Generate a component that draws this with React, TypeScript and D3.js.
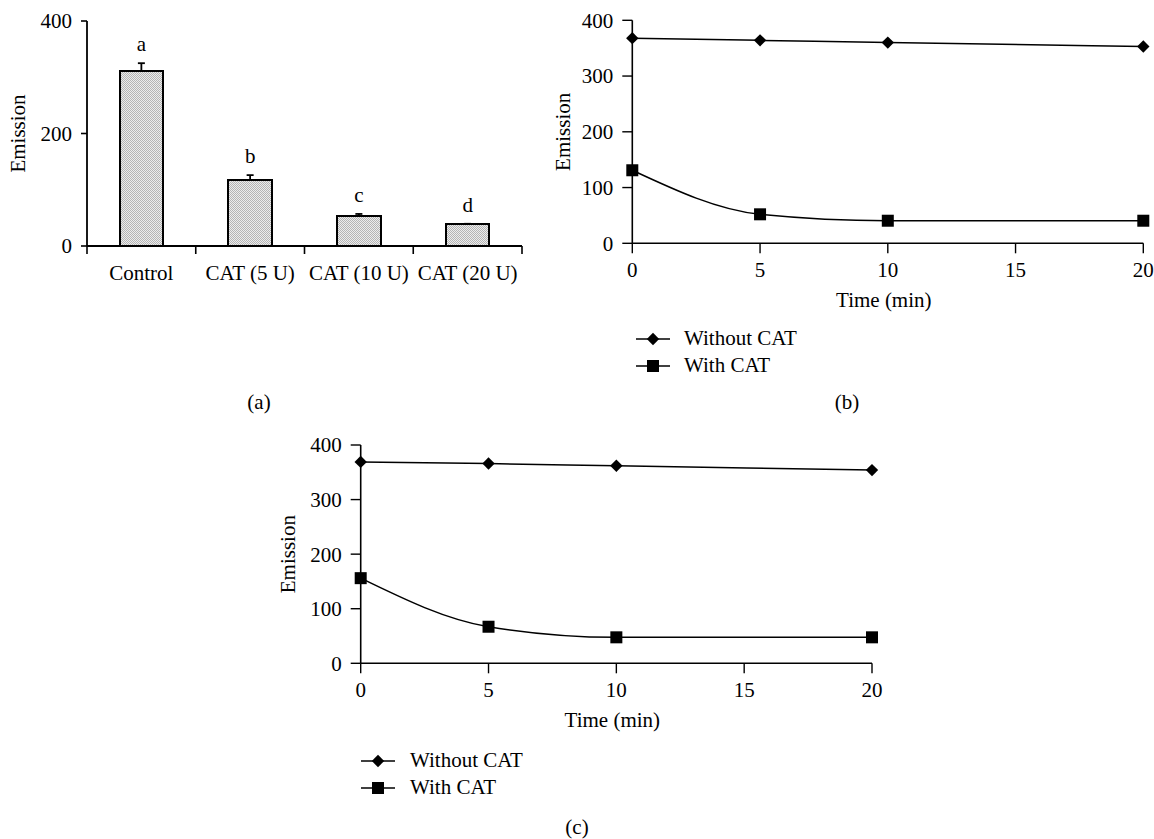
import React from "react";
import * as d3 from "d3";

// ---------- Data ----------
const barCategories = ["Control", "CAT (5 U)", "CAT (10 U)", "CAT (20 U)"];
const barValues = [312, 117, 53, 38.5];
const barErrors = [13, 9, 4, 1];
const barLetters = ["a", "b", "c", "d"];
const barYTicks = [0, 200, 400];

const timePoints = [0, 5, 10, 20];
const timeTicks = [0, 5, 10, 15, 20];
const emissionTicks = [0, 100, 200, 300, 400];
const seriesNames = ["Without CAT", "With CAT"];

const bWithout = [368, 364, 360, 353];
const bWith = [131, 52, 40.5, 40.5];
const cWithout = [369, 366, 362, 354];
const cWith = [156, 67, 47.6, 47.6];

const panelLabels = ["(a)", "(b)", "(c)"];
const yTitle = "Emission";
const xTitle = "Time (min)";

const FONT = "'Liberation Serif', 'Times New Roman', serif";
const FS = 21;

function BarPanel() {
  const x0 = 87, x1 = 522, yTop = 21, yBot = 246;
  const x = d3.scaleBand<string>().domain(barCategories).range([x0, x1]).padding(0);
  const y = d3.scaleLinear().domain([0, 400]).range([yBot, yTop]);
  const bw = x.bandwidth() * 0.4;
  const boundaries = barCategories.map((c) => x(c) as number).concat([x1]);
  return (
    <g>
      <defs>
        <pattern id="hatch" width="2" height="2" patternUnits="userSpaceOnUse">
          <rect x="0" y="0" width="2" height="2" fill="#ececec" />
          <rect x="0" y="0" width="1" height="1" fill="#b4b4b4" />
          <rect x="1" y="1" width="1" height="1" fill="#b4b4b4" />
        </pattern>
      </defs>
      {barCategories.map((c, i) => {
        const cx = (x(c) as number) + x.bandwidth() / 2;
        const top = y(barValues[i]);
        const etop = y(barValues[i] + barErrors[i]);
        return (
          <g key={c}>
            <line x1={cx} x2={cx} y1={top} y2={etop} stroke="#000" strokeWidth={1.8} />
            <line x1={cx - 3.5} x2={cx + 3.5} y1={etop} y2={etop} stroke="#000" strokeWidth={1.8} />
            <rect x={cx - bw / 2} y={top} width={bw} height={yBot - top} fill="url(#hatch)" stroke="#000" strokeWidth={2} shapeRendering="crispEdges" />
            <text x={cx} y={etop - 12} textAnchor="middle" fontFamily={FONT} fontSize={FS}>{barLetters[i]}</text>
            <text x={cx} y={yBot + 34} textAnchor="middle" fontFamily={FONT} fontSize={FS}>{c}</text>
          </g>
        );
      })}
      <line x1={x0} x2={x0} y1={yTop} y2={yBot} stroke="#000" strokeWidth={1.8} />
      <line x1={x0} x2={x1} y1={yBot} y2={yBot} stroke="#000" strokeWidth={1.8} />
      {boundaries.map((bx, i) => (
        <line key={i} x1={bx} x2={bx} y1={yBot} y2={yBot + 8} stroke="#000" strokeWidth={1.6} />
      ))}
      {barYTicks.map((t) => (
        <g key={t}>
          <line x1={x0 - 6} x2={x0} y1={y(t)} y2={y(t)} stroke="#000" strokeWidth={1.6} />
          <text x={x0 - 15} y={y(t)} dy="0.35em" textAnchor="end" fontFamily={FONT} fontSize={FS}>{t}</text>
        </g>
      ))}
      <text transform={`translate(25,${(yTop + yBot) / 2}) rotate(-90)`} textAnchor="middle" fontFamily={FONT} fontSize={FS}>{yTitle}</text>
    </g>
  );
}

type LineProps = {
  xr: [number, number];
  yr: [number, number];
  without: number[];
  withC: number[];
  titleX: number;
  legendX: number;
  legendTextX: number;
  legendY: number;
};

function LinePanel(p: LineProps) {
  const x = d3.scaleLinear().domain([0, 20]).range(p.xr);
  const y = d3.scaleLinear().domain([0, 400]).range(p.yr);
  const line = d3
    .line<number>()
    .x((_, i) => x(timePoints[i]))
    .y((d) => y(d))
    .curve(d3.curveMonotoneX);
  const [xa, xb] = p.xr;
  const [yb, ya] = p.yr;
  const diamond = (cx: number, cy: number, r: number) =>
    `M${cx},${cy - r}L${cx + r},${cy}L${cx},${cy + r}L${cx - r},${cy}Z`;
  const ly2 = p.legendY + 27;
  return (
    <g>
      <line x1={xa} x2={xa} y1={ya} y2={yb} stroke="#000" strokeWidth={1.6} />
      <line x1={xa} x2={xb} y1={yb} y2={yb} stroke="#000" strokeWidth={1.6} />
      {emissionTicks.map((t) => (
        <g key={t}>
          <line x1={xa - 10} x2={xa} y1={y(t)} y2={y(t)} stroke="#000" strokeWidth={1.4} />
          <text x={xa - 19} y={y(t)} dy="0.35em" textAnchor="end" fontFamily={FONT} fontSize={FS}>{t}</text>
        </g>
      ))}
      {timeTicks.map((t) => (
        <g key={t}>
          <line x1={x(t)} x2={x(t)} y1={yb} y2={yb + 10} stroke="#000" strokeWidth={1.4} />
          <text x={x(t)} y={yb + 34} textAnchor="middle" fontFamily={FONT} fontSize={FS}>{t}</text>
        </g>
      ))}
      <path d={line(p.without) || ""} fill="none" stroke="#000" strokeWidth={1.5} />
      <path d={line(p.withC) || ""} fill="none" stroke="#000" strokeWidth={1.5} />
      {p.without.map((v, i) => (
        <path key={"d" + i} d={diamond(x(timePoints[i]), y(v), 6.2)} fill="#000" />
      ))}
      {p.withC.map((v, i) => (
        <rect key={"s" + i} x={x(timePoints[i]) - 6} y={y(v) - 6} width={12} height={12} fill="#000" />
      ))}
      <text transform={`translate(${p.titleX},${(ya + yb) / 2}) rotate(-90)`} textAnchor="middle" fontFamily={FONT} fontSize={FS}>{yTitle}</text>
      <text x={(xa + xb) / 2 - 4} y={yb + 64} textAnchor="middle" fontFamily={FONT} fontSize={FS}>{xTitle}</text>
      {/* legend */}
      <line x1={p.legendX} x2={p.legendX + 34} y1={p.legendY} y2={p.legendY} stroke="#000" strokeWidth={1.5} />
      <path d={diamond(p.legendX + 17, p.legendY, 6.2)} fill="#000" />
      <text x={p.legendTextX} y={p.legendY + 6} fontFamily={FONT} fontSize={FS}>{seriesNames[0]}</text>
      <line x1={p.legendX} x2={p.legendX + 34} y1={ly2} y2={ly2} stroke="#000" strokeWidth={1.5} />
      <rect x={p.legendX + 11} y={ly2 - 6} width={12} height={12} fill="#000" />
      <text x={p.legendTextX} y={ly2 + 6} fontFamily={FONT} fontSize={FS}>{seriesNames[1]}</text>
    </g>
  );
}

export default function App() {
  return (
    <svg
      width={1154}
      height={839}
      viewBox="0 0 1154 839"
      style={{ position: "absolute", left: 0, top: 0, background: "#fff" }}
    >
      <rect x={0} y={0} width={1154} height={839} fill="#fff" />
      <BarPanel />
      <LinePanel
        xr={[632.3, 1143.3]}
        yr={[243.3, 20.3]}
        without={bWithout}
        withC={bWith}
        titleX={570}
        legendX={636}
        legendTextX={684}
        legendY={339}
      />
      <LinePanel
        xr={[360.7, 872]}
        yr={[663.3, 445]}
        without={cWithout}
        withC={cWith}
        titleX={295}
        legendX={361}
        legendTextX={410}
        legendY={761}
      />
      <text x={259} y={409} textAnchor="middle" fontFamily={FONT} fontSize={FS}>{panelLabels[0]}</text>
      <text x={847} y={409} textAnchor="middle" fontFamily={FONT} fontSize={FS}>{panelLabels[1]}</text>
      <text x={577} y={834} textAnchor="middle" fontFamily={FONT} fontSize={FS}>{panelLabels[2]}</text>
    </svg>
  );
}
